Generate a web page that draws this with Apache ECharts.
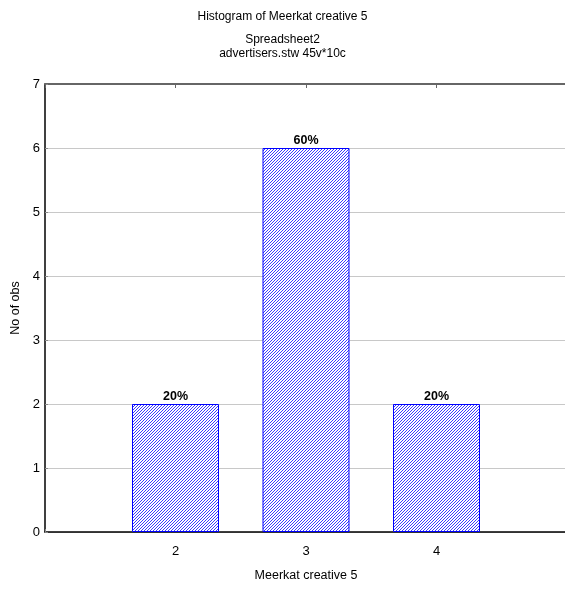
<!DOCTYPE html>
<html>
<head>
<meta charset="utf-8">
<script src="https://cdn.jsdelivr.net/npm/echarts@6/dist/echarts.min.js"></script>
<style>
html,body{margin:0;padding:0;background:#fff;}
#chart{width:565px;height:590px;}
</style>
</head>
<body>
<div id="chart"></div>
<script>
var titleText = 'Histogram of Meerkat creative 5';
var subtitle1 = 'Spreadsheet2';
var subtitle2 = 'advertisers.stw 45v*10c';
var categories = [2, 3, 4];
var counts = [2, 6, 2];
var percents = ['20%', '60%', '20%'];
var xTickLabels = ['2', '3', '4'];
var xName = 'Meerkat creative 5';
var yName = 'No of obs';

function hatch() {
  var n = 3;
  var c = document.createElement('canvas');
  c.width = n; c.height = n;
  var ctx = c.getContext('2d');
  ctx.fillStyle = '#ffffff';
  ctx.fillRect(0, 0, n, n);
  ctx.fillStyle = '#3c3cff';
  for (var i = 0; i < n; i++) ctx.fillRect(n - 1 - i, i, 1, 1);
  return c;
}

var font = '"Liberation Sans", Arial, sans-serif';
var chart = echarts.init(document.getElementById('chart'), null, {renderer: 'canvas'});
var data = categories.map(function (c, i) { return [c, counts[i]]; });
var tStyle = {fontSize: 12, fontWeight: 'normal', color: '#000', fontFamily: font};

chart.setOption({
  animation: false,
  backgroundColor: '#ffffff',
  textStyle: {fontFamily: font},
  title: [
    {text: titleText, left: 'center', top: 11, padding: 0, textStyle: tStyle},
    {text: subtitle1, left: 'center', top: 34, padding: 0, textStyle: tStyle},
    {text: subtitle2, left: 'center', top: 48, padding: 0, textStyle: tStyle}
  ],
  grid: {left: 45, top: 84, right: -2, bottom: 58, containLabel: false, outerBoundsMode: 'none'},
  xAxis: [
    {
      type: 'value', position: 'bottom', min: 1, max: 5, interval: 1,
      name: xName, nameLocation: 'middle', nameGap: 37,
      nameTextStyle: {fontSize: 12.5, color: '#000', fontFamily: font},
      axisLine: {show: true, lineStyle: {color: '#000', width: 1.5}},
      axisTick: {show: true, inside: true, length: 3, lineStyle: {color: '#888'}},
      axisLabel: {
        fontSize: 13, color: '#000', margin: 13, fontFamily: font,
        formatter: function (v) { var i = categories.indexOf(v); return i >= 0 ? xTickLabels[i] : ''; }
      },
      splitLine: {show: false}
    },
    {
      type: 'value', position: 'top', min: 1, max: 5, interval: 1,
      axisLine: {show: true, lineStyle: {color: '#666', width: 2}},
      axisTick: {show: true, inside: true, length: 4, lineStyle: {color: '#666'}},
      axisLabel: {show: false},
      splitLine: {show: false}
    }
  ],
  yAxis: {
    type: 'value', min: 0, max: 7, interval: 1,
    name: yName, nameLocation: 'middle', nameGap: 19, nameRotate: 90,
    nameTextStyle: {fontSize: 12.5, color: '#000', fontFamily: font},
    axisLine: {show: true, lineStyle: {color: '#000', width: 1.5}},
    axisTick: {show: true, inside: true, length: 3, lineStyle: {color: '#888'}},
    axisLabel: {fontSize: 13, color: '#000', margin: 5, fontFamily: font},
    splitLine: {show: true, lineStyle: {color: '#c8c8c8', width: 1}}
  },
  series: [{
    type: 'bar',
    data: data,
    barWidth: 87,
    itemStyle: {
      color: {image: hatch(), repeat: 'repeat'},
      borderColor: '#0000ff',
      borderWidth: 1
    },
    label: {
      show: true, position: 'top', distance: 1,
      fontSize: 12.5, fontWeight: 'bold', color: '#000', fontFamily: font,
      formatter: function (p) { return percents[p.dataIndex]; }
    }
  }]
});
</script>
</body>
</html>
